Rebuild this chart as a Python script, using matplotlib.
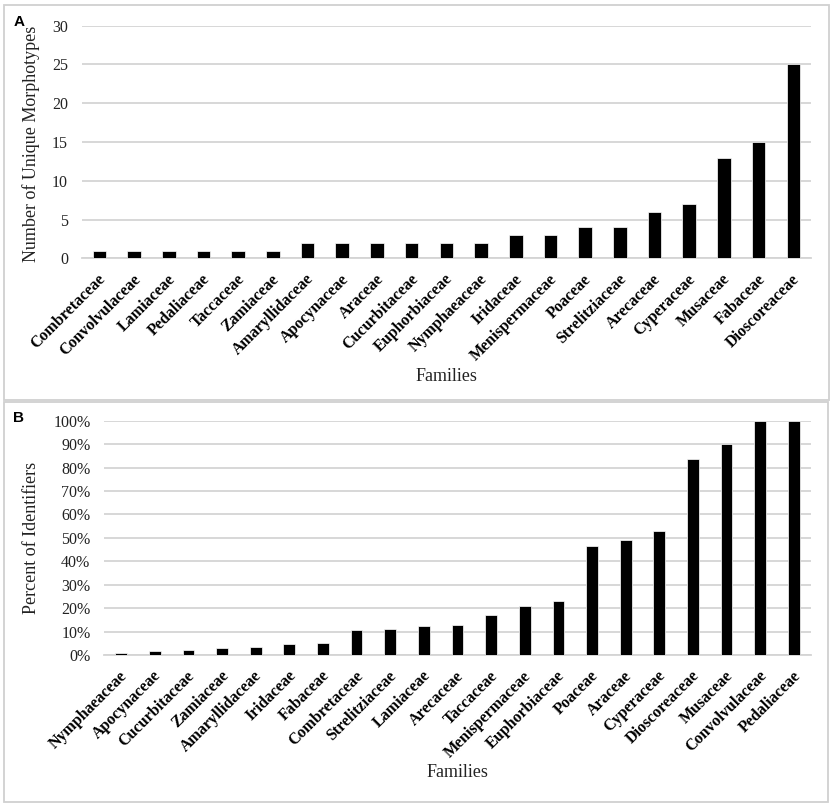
import numpy as np
import matplotlib
matplotlib.use('Agg')
import matplotlib.pyplot as plt
import matplotlib.transforms as mtransforms
from matplotlib.patches import Rectangle
from matplotlib.ticker import FuncFormatter

# panel A data
families_a = ['Combretaceae', 'Convolvulaceae', 'Lamiaceae', 'Pedaliaceae', 'Taccaceae',
              'Zamiaceae', 'Amaryllidaceae', 'Apocynaceae', 'Araceae', 'Cucurbitaceae',
              'Euphorbiaceae', 'Nymphaeaceae', 'Iridaceae', 'Menispermaceae', 'Poaceae',
              'Strelitziaceae', 'Arecaceae', 'Cyperaceae', 'Musaceae', 'Fabaceae',
              'Dioscoreaceae']
morphotypes = [1, 1, 1, 1, 1, 1, 2, 2, 2, 2, 2, 2, 3, 3, 4, 4, 6, 7, 13, 15, 25]

# panel B data
families_b = ['Nymphaeaceae', 'Apocynaceae', 'Cucurbitaceae', 'Zamiaceae', 'Amaryllidaceae',
              'Iridaceae', 'Fabaceae', 'Combretaceae', 'Strelitziaceae', 'Lamiaceae',
              'Arecaceae', 'Taccaceae', 'Menispermaceae', 'Euphorbiaceae', 'Poaceae',
              'Araceae', 'Cyperaceae', 'Dioscoreaceae', 'Musaceae', 'Convolvulaceae',
              'Pedaliaceae']
pct_identifiers = [0.85, 1.8, 2.1, 3.1, 3.4, 4.6, 5.3, 10.5, 11.0, 12.4, 12.8, 17.2,
                   20.8, 23.0, 46.5, 48.9, 52.9, 83.8, 89.9, 100, 100]

W, H = 836, 807
plt.rcParams['font.family'] = 'Liberation Serif'
fig = plt.figure(figsize=(W/100, H/100), dpi=100)

def px(x0, y0, x1, y1):
    # pixel box -> figure fraction [left, bottom, width, height]
    return [x0/W, 1 - y1/H, (x1-x0)/W, (y1-y0)/H]

grid_col = '#d4d4d4'

def draw_panel(ax, cats, vals, width, ylim, yticks, ylabel, fmt=None):
    x = np.arange(len(cats))
    ax.set_axisbelow(True)
    ax.yaxis.grid(True, color=grid_col, linewidth=1.3)
    ax.bar(x, vals, width=width, color='black', edgecolor='white', linewidth=0.5, zorder=3)
    ax.set_xlim(-0.5, len(cats) - 0.5)
    ax.set_ylim(*ylim)
    ax.set_yticks(yticks)
    if fmt:
        ax.yaxis.set_major_formatter(FuncFormatter(fmt))
    ax.set_xticks(x)
    ax.tick_params(axis='x', length=0, pad=9)
    ax.tick_params(axis='y', length=0, pad=10, labelsize=11.5, labelcolor='#222222')
    ax.set_xticklabels(cats, rotation=45, ha='right', rotation_mode='anchor',
                       fontsize=11.5, fontweight='bold', va='center')
    # nudge the slanted labels a bit right and down
    off = mtransforms.ScaledTranslation(4/100, -6/100, fig.dpi_scale_trans)
    for lab in ax.get_xticklabels():
        lab.set_transform(lab.get_transform() + off)
    for s in ['top', 'right', 'left']:
        ax.spines[s].set_visible(False)
    ax.spines['bottom'].set_color(grid_col)
    ax.spines['bottom'].set_linewidth(1.3)
    ax.set_ylabel(ylabel, fontsize=13, color='#222222')
    ax.set_xlabel('Families', fontsize=13, color='#222222')

# panel borders
for box in [(4, 5, 829, 400), (4, 402, 828, 802)]:
    x0, y0, x1, y1 = box
    fig.add_artist(Rectangle((x0/W, 1 - y1/H), (x1-x0)/W, (y1-y0)/H,
                             transform=fig.transFigure, fill=False,
                             edgecolor='#d0d0d0', linewidth=1.3))

ax1 = fig.add_axes(px(82, 25.7, 810.7, 258.3))
draw_panel(ax1, families_a, morphotypes, 0.39, (0, 30), range(0, 31, 5),
           'Number of Unique Morphotypes')
ax1.yaxis.set_label_coords(-0.057, 0.49)
ax1.xaxis.set_label_coords(0.5, -0.47)

ax2 = fig.add_axes(px(104.3, 420.7, 810.7, 655))
draw_panel(ax2, families_b, pct_identifiers, 0.35, (0, 100), range(0, 101, 10),
           'Percent of Identifiers', fmt=lambda v, p: '%d%%' % v)
ax2.yaxis.set_label_coords(-0.091, 0.5)
ax2.xaxis.set_label_coords(0.5, -0.465)

fig.text(19/W, 1 - 22/H, 'A', fontsize=11, fontweight='bold', family='Liberation Sans',
         ha='center', va='center')
fig.text(19/W, 1 - 418/H, 'B', fontsize=11, fontweight='bold', family='Liberation Sans',
         ha='center', va='center')

fig.savefig('out.png', dpi=100)
